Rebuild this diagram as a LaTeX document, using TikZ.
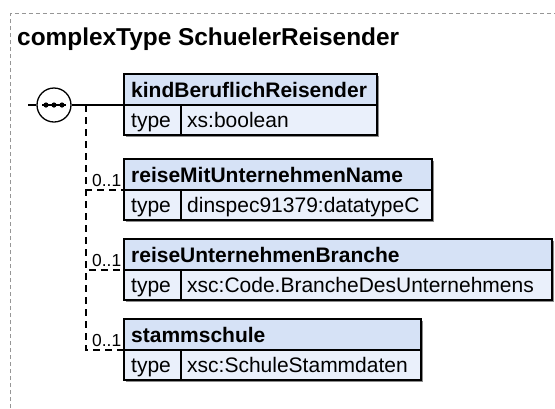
\documentclass[tikz,border=0pt]{standalone}
\usepackage{fontspec}
\setmainfont{Liberation Sans}
\definecolor{hdrblue}{RGB}{214,226,246}
\definecolor{rowblue}{RGB}{234,240,251}
\definecolor{framegray}{RGB}{150,150,150}
\begin{document}
\begin{tikzpicture}[x=1pt,y=-1pt,
  boxpart/.style={draw=black,line width=1.3pt,anchor=north west,inner sep=0pt,outer sep=0pt},
  hdr/.style={boxpart,fill=hdrblue,minimum height=31pt},
  rowpart/.style={boxpart,fill=rowblue,minimum height=30pt},
  shadowbox/.style={fill=black!45},
  htext/.style={anchor=base west,inner sep=0pt,font=\fontsize{21}{21}\selectfont\bfseries},
  ttext/.style={anchor=base west,inner sep=0pt,font=\fontsize{21}{21}\selectfont},
  multtext/.style={anchor=base west,inner sep=0pt,font=\fontsize{17.4}{17.4}\selectfont},
  conn/.style={line width=1.3pt},
  optconn/.style={line width=1.3pt,dash pattern=on 7pt off 5pt},
  outerframe/.style={draw=framegray,line width=0.8pt,dash pattern=on 4pt off 3pt}
]
\useasboundingbox (0,0) rectangle (555,408);
% outer frame
\draw[outerframe] (10.5,408) -- (10.5,13.5) -- (555,13.5);
\node[anchor=base west,inner sep=0pt,font=\fontsize{24.4}{24.4}\selectfont\bfseries] (title) at (17,45) {complexType SchuelerReisender};

% shadows
\fill[shadowbox] (125.5,75.5) rectangle (378.5,136.5);
\fill[shadowbox] (125.5,160.5) rectangle (433.5,221.5);
\fill[shadowbox] (125.5,240.5) rectangle (553.5,301.5);
\fill[shadowbox] (125.5,320.5) rectangle (422.5,381.5);

% box 1
\node[hdr,minimum width=253pt] (h1) at (124,74) {};
\node[rowpart,minimum width=57pt] (k1) at (124,105) {};
\node[rowpart,minimum width=196pt] (v1) at (181,105) {};
\node[htext] (h1t) at (131,97) {kindBeruflichReisender};
\node[ttext] (k1t) at (131,127) {type};
\node[ttext] (v1t) at (187,127) {xs:boolean};

% box 2
\node[hdr,minimum width=308pt] (h2) at (124,159) {};
\node[rowpart,minimum width=57pt] (k2) at (124,190) {};
\node[rowpart,minimum width=251pt] (v2) at (181,190) {};
\node[htext] (h2t) at (131,182) {reiseMitUnternehmenName};
\node[ttext] (k2t) at (131,212) {type};
\node[ttext] (v2t) at (187,212) {dinspec91379:datatypeC};

% box 3
\node[hdr,minimum width=428pt] (h3) at (124,239) {};
\node[rowpart,minimum width=57pt] (k3) at (124,270) {};
\node[rowpart,minimum width=371pt] (v3) at (181,270) {};
\node[htext] (h3t) at (131,262) {reiseUnternehmenBranche};
\node[ttext] (k3t) at (131,292) {type};
\node[ttext] (v3t) at (187,292) {xsc:Code.BrancheDesUnternehmens};

% box 4
\node[hdr,minimum width=297pt] (h4) at (124,319) {};
\node[rowpart,minimum width=57pt] (k4) at (124,350) {};
\node[rowpart,minimum width=240pt] (v4) at (181,350) {};
\node[htext] (h4t) at (131,342) {stammschule};
\node[ttext] (k4t) at (131,372) {type};
\node[ttext] (v4t) at (187,372) {xsc:SchuleStammdaten};

% sequence compositor
\coordinate (in) at (28,105);
\coordinate (fork) at (86,105);
\node[draw=black,line width=1.3pt,fill=white,circle,minimum size=34pt,inner sep=0pt] (seq) at (54,105) {};
\draw[conn] (in) -- (seq.west);
\draw[conn] (seq.east) -- (h1.south west);
\draw[line width=1.3pt] ([xshift=-12pt]seq.center) -- ([xshift=12pt]seq.center);
\fill ([xshift=-8pt]seq.center) circle (2.6pt);
\fill (seq.center) circle (2.6pt);
\fill ([xshift=8pt]seq.center) circle (2.6pt);

% optional connectors
\draw[optconn] (fork) |- (h2.south west);
\draw[optconn] (fork) |- (h3.south west);
\draw[optconn] (fork) |- (h4.south west);
\node[multtext] (m2) at (92,186) {0..1};
\node[multtext] (m3) at (92,266) {0..1};
\node[multtext] (m4) at (92,346) {0..1};
\end{tikzpicture}
\end{document}
